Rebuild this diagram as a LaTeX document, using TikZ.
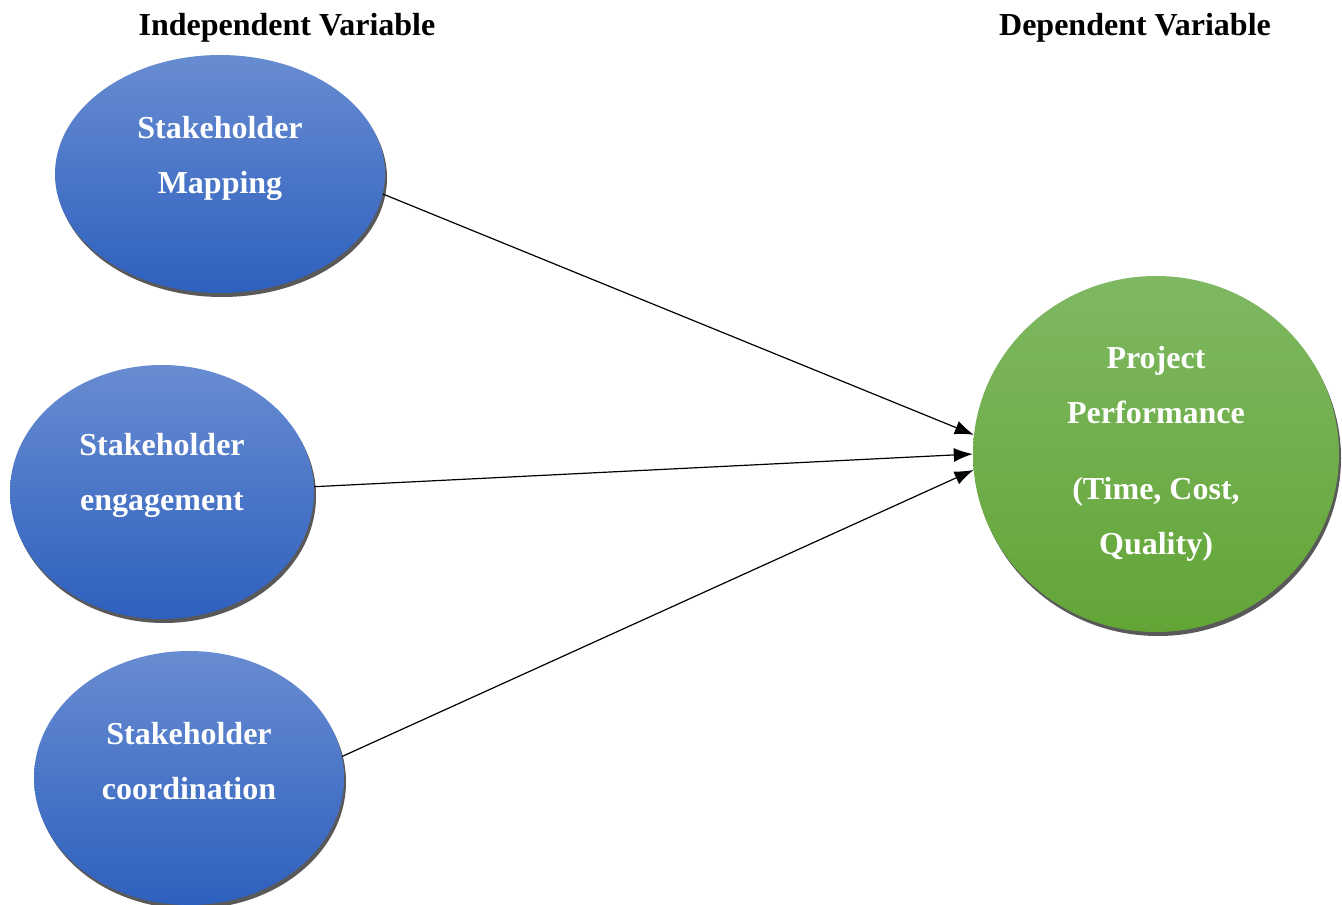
\documentclass[tikz,border=0pt]{standalone}
\usepackage{fontspec}
\setmainfont{Liberation Serif}
\usetikzlibrary{positioning, calc, shadows, arrows.meta, shapes.geometric}

\definecolor{bluetop}{RGB}{104,140,209}
\definecolor{bluebot}{RGB}{46,96,190}
\definecolor{greentop}{RGB}{127,184,98}
\definecolor{greenbot}{RGB}{98,165,54}

\begin{document}
\begin{tikzpicture}[
                x=1pt, y=-1pt,
                font=\bfseries\fontsize{32}{55}\selectfont,
                >={Latex[length=19pt, width=14pt]},
                every edge/.style={draw, line width=1.2pt},
                castshadow/.style={drop shadow={shadow xshift=2pt, shadow yshift=-4pt, fill=black!65, opacity=1}},
                ivar/.style={ellipse, castshadow, top color=bluetop, bottom color=bluebot, inner sep=0pt},
                dvar/.style={ellipse, castshadow, top color=greentop, bottom color=greenbot, inner sep=0pt},
                vtext/.style={align=center, text=white},
                head/.style={font=\bfseries\fontsize{32}{38}\selectfont}]

    \useasboundingbox (0,0) rectangle (1342,905);

    %%% HEADINGS
    \node [head] (indephead) at (287,28) {Independent Variable};
    \node [head] (dephead) at (1135,28) {Dependent Variable};

    %%% NODES
    \node [ivar, minimum width=330, minimum height=238] (mapping) at (220,174) {};
    \node [vtext] (mappingtext) at (220,158) {Stakeholder\\Mapping};
    \node [ivar, minimum width=304, minimum height=254] (engagement) at (162,492) {};
    \node [vtext] (engagementtext) at (162,475) {Stakeholder\\engagement};
    \node [ivar, minimum width=310, minimum height=254] (coordination) at (189,778) {};
    \node [vtext] (coordinationtext) at (189,761) {Stakeholder\\coordination};
    \node [dvar, minimum width=366, minimum height=356] (performance) at (1156,454) {};
    \node [vtext] (performancetext) at (1156,454) {Project\\Performance\\[21pt](Time, Cost,\\Quality)};

    %%% CONNECTIONS
    \path (mapping.-7) edge [->] (performance.174);
    \path (engagement.2) edge [->] (performance.180);
    \path (coordination.8) edge [->] (performance.185);

\end{tikzpicture}
\end{document}
